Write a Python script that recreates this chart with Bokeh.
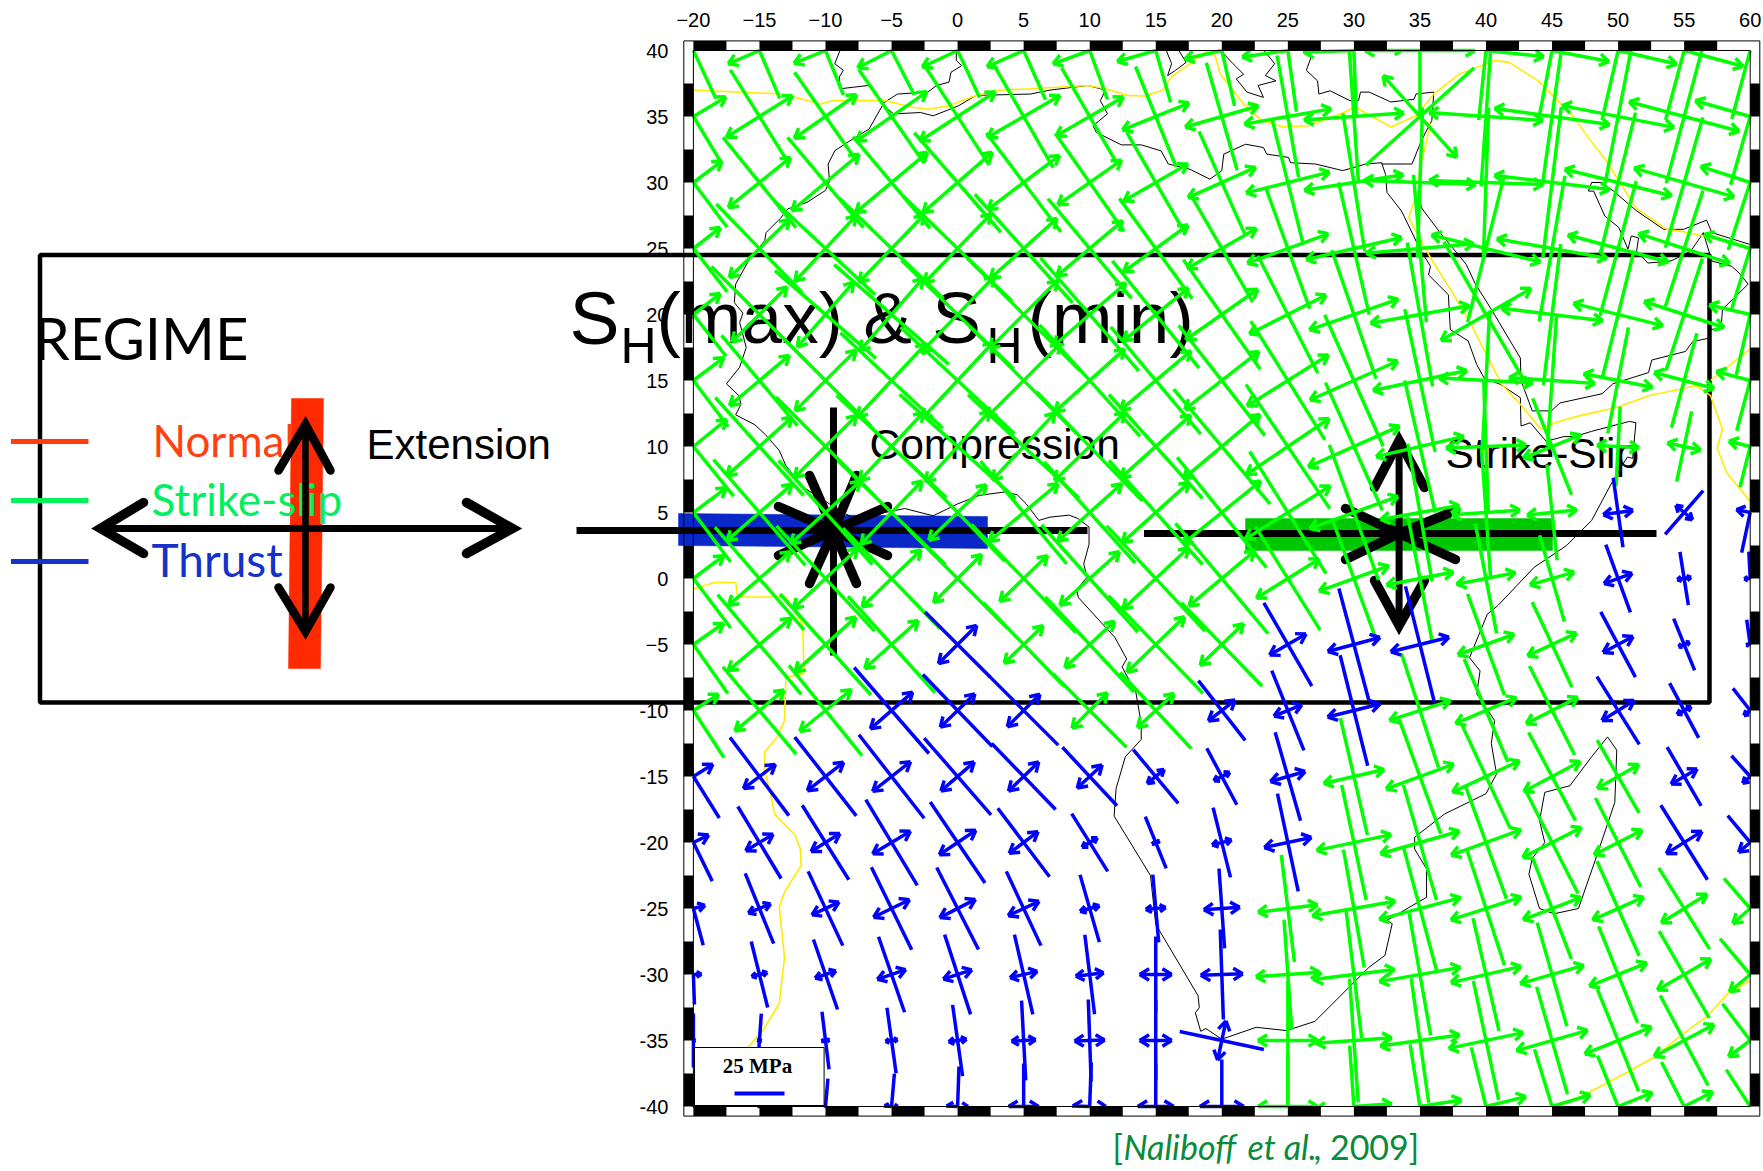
from bokeh.plotting import figure
from bokeh.models import Range1d, LinearAxis, FixedTicker
from bokeh.core.properties import value
from bokeh.embed import file_html
from bokeh.resources import INLINE
import math

# ---------- data ----------
LONS = [-20, -15, -10, -5, 0, 5, 10, 15, 20, 25, 30, 35, 40, 45, 50, 55, 60]
LATS = [40, 35, 30, 25, 20, 15, 10, 5, 0, -5, -10, -15, -20, -25, -30, -35, -40]
TOP_LABELS = ["\u221220", "\u221215", "\u221210", "\u22125", "0", "5", "10", "15", "20", "25", "30", "35", "40", "45", "50", "55", "60"]
LEFT_LABELS = ["40", "35", "30", "25", "20", "15", "10", "5", "0", "\u22125", "-10", "-15", "-20", "-25", "-30", "-35", "-40"]

# tilt of SH(max) from north, degrees (positive: top leans west)
TILT = [
    [25, 23, 22, 27, 25, 24, 20, 16, 13, 8, 2, 0, -6, -11, -13, -15, -15],
    [31, 32, 35, 35, 33, 30, 30, 22, 16, 10, 4, -48, -4, -8, -11, -15, -16],
    [37, 39, 40, 40, 41, 37, 35, 30, 24, 14, 9, -2, -2, -7, -14, -16, -18],
    [38, 44, 47, 46, 46, 42, 40, 36, 30, 20, 13, 5, -14, -10, -15, -18, -17],
    [38, 45, 49, 49, 46, 45, 41, 39, 35, 27, 19, 10, 30, -7, -14, -18, -13],
    [37, 40, 45, 47, 47, 45, 42, 40, 38, 32, 24, 12, -3, -4, -11, -15, -15],
    [39, 42, 45, 47, 48, 47, 44, 42, 40, 34, 24, 13, 2, 22, -3, -12, -14],
    [37, 41, 42, 46, 44, 40, 42, 42, 39, 32, 20, 10, 4, 6, 8, -41, -12],
    [37, 41, 43, 44, 45, 44, 42, 43, 40, 32, 20, 11, 11, 16, 20, 9, 3],
    [35, 40, 42, 42, 45, 44, 43, 44, 44, 30, 15, 14, 20, 25, 28, 22, 8],
    [33, 40, 39, 41, 44, 45, 45, 43, 38, 22, 14, 18, 23, 27, 32, 28, 38],
    [32, 37, 38, 38, 41, 44, 43, 40, 28, 16, 13, 20, 25, 28, 30, 30, 42],
    [26, 31, 32, 31, 34, 37, 32, 22, 14, 12, 12, 16, 20, 27, 27, 32, 40],
    [15, 22, 25, 26, 27, 25, 16, 5, 4, 7, 10, 15, 18, 21, 24, 32, 41],
    [2, 14, 19, 19, 18, 13, 7, 0, 2, 4, 7, 10, 13, 16, 22, 30, 40],
    [0, -4, 7, 8, 8, 3, 2, 0, 78, 0, 4, 8, 12, 16, 22, 28, 37],
    [0, 0, -5, -5, -2, 0, -2, 0, 0, 0, 4, 9, 14, 17, 22, 27, 33],
]
# SH(max) magnitude, MPa
SHMAX = [
    [53, 52, 48, 50, 52, 54, 52, 54, 57, 62, 65, 67, 70, 68, 69, 72, 71],
    [51, 55, 54, 57, 58, 59, 56, 54, 56, 62, 66, 73, 70, 69, 68, 69, 71],
    [56, 58, 59, 60, 66, 62, 60, 58, 56, 64, 70, 75, 75, 76, 72, 68, 71],
    [55, 62, 68, 72, 76, 73, 65, 62, 62, 64, 68, 74, 76, 74, 70, 61, 64],
    [53, 68, 67, 76, 78, 80, 75, 69, 67, 66, 68, 73, 84, 71, 66, 59, 62],
    [58, 59, 65, 70, 78, 76, 75, 70, 70, 70, 72, 73, 70, 66, 54, 49, 52],
    [64, 66, 70, 75, 78, 76, 76, 70, 75, 75, 70, 68, 66, 52, 40, 36, 42],
    [62, 70, 70, 75, 68, 67, 68, 70, 71, 72, 72, 70, 64, 48, 35, 29, 41],
    [62, 68, 72, 70, 70, 75, 72, 72, 72, 61, 63, 63, 56, 45, 36, 27, 27],
    [60, 65, 68, 65, 46, 58, 65, 68, 58, 48, 58, 60, 54, 47, 37, 28, 25],
    [56, 57, 58, 57, 50, 49, 52, 52, 38, 43, 57, 60, 56, 50, 40, 31, 28],
    [49, 49, 50, 53, 51, 46, 40, 35, 32, 46, 60, 61, 57, 50, 42, 34, 28],
    [43, 42, 44, 50, 49, 43, 34, 28, 36, 50, 59, 60, 60, 57, 50, 44, 35],
    [38, 38, 41, 46, 46, 41, 35, 34, 40, 54, 60, 64, 60, 54, 52, 48, 40],
    [30, 34, 37, 40, 42, 41, 40, 38, 45, 55, 64, 62, 58, 54, 52, 50, 47],
    [27, 27, 29, 33, 36, 40, 41, 40, 43, 60, 62, 63, 61, 56, 55, 51, 46],
    [25, 25, 28, 33, 40, 43, 44, 43, 47, 53, 61, 63, 61, 60, 55, 50, 44],
]
# SH(min) magnitude, MPa
SHMIN = [
    [30, 34, 34, 38, 39, 40, 39, 40, 38, 46, 50, 55, 58, 58, 60, 61, 62],
    [38, 39, 38, 43, 45, 42, 39, 36, 38, 44, 50, 55, 57, 58, 57, 57, 57],
    [36, 40, 44, 47, 46, 45, 39, 37, 37, 43, 50, 56, 57, 58, 55, 52, 52],
    [34, 42, 45, 47, 48, 45, 43, 40, 40, 43, 49, 54, 56, 56, 52, 48, 48],
    [34, 39, 43, 48, 53, 48, 48, 42, 44, 43, 47, 50, 52, 51, 46, 42, 42],
    [38, 39, 43, 50, 52, 52, 47, 46, 47, 48, 48, 48, 47, 43, 35, 31, 35],
    [43, 44, 44, 47, 48, 46, 49, 47, 50, 50, 50, 45, 40, 31, 21, 17, 22],
    [41, 43, 47, 44, 40, 45, 43, 45, 50, 50, 47, 40, 34, 25, 15, 11, 14],
    [38, 41, 44, 41, 34, 33, 40, 45, 43, 37, 37, 34, 30, 23, 15, 7, 6],
    [37, 41, 41, 36, 27, 27, 34, 40, 30, 21, 27, 30, 30, 27, 17, 6, 4],
    [30, 32, 33, 28, 24, 23, 25, 25, 17, 15, 27, 32, 33, 29, 19, 8, 8],
    [23, 20, 23, 24, 22, 21, 17, 11, 9, 18, 31, 36, 37, 32, 24, 15, 10],
    [17, 16, 17, 22, 22, 18, 9, 4, 10, 24, 38, 41, 37, 33, 27, 21, 15],
    [12, 12, 15, 20, 20, 17, 10, 10, 18, 30, 42, 42, 37, 31, 28, 27, 23],
    [8, 8, 11, 15, 15, 14, 14, 16, 21, 32, 41, 41, 36, 33, 31, 31, 27],
    [2, 2, 4, 6, 9, 12, 15, 16, 20, 30, 38, 40, 38, 37, 36, 34, 27],
    [2, 2, 1, 7, 11, 15, 17, 18, 22, 30, 38, 42, 41, 40, 37, 32, 28],
]
# stress regime per cell: S strike-slip, T thrust
REGIME = [
    "SSSSSSSSSSSSSSSSS",
    "SSSSSSSSSSSSSSSSS",
    "SSSSSSSSSSSSSSSSS",
    "SSSSSSSSSSSSSSSSS",
    "SSSSSSSSSSSSSSSSS",
    "SSSSSSSSSSSSSSSSS",
    "SSSSSSSSSSSSSSSSS",
    "SSSSSSSSSSSSSSTTT",
    "SSSSSSSSSSSSSSTTT",
    "SSSSTSSSSTTTSSTTT",
    "SSSTTTSSTTTSSSTTT",
    "TTTTTTTTTTSSSSSTT",
    "TTTTTTTTTTSSSSSTT",
    "TTTTTTTTTSSSSSSSS",
    "TTTTTTTTTSSSSSSSS",
    "TTTTTTTTTSSSSSSSS",
    "TTTTTTTTTSSSSSSSS",
]

COAST = [
    # Iberia
    [(-8.9, 40), (-9.3, 39), (-8.65, 38.5), (-8.95, 38), (-8.9, 37.1), (-6.75, 37.35), (-5.65, 36), (-4.55, 36.7),
     (-2.25, 36.85), (-1.6, 37.35), (-0.65, 37.6), (-0.5, 38.35), (0.3, 38.85), (-0.1, 39.25), (-0.1, 40)],
    # Africa, west side
    [(-5.65, 35.9), (-6.7, 34.05), (-8.4, 33), (-9.3, 32.4), (-9.8, 31.4), (-9.7, 30.1), (-10, 29.4), (-11.4, 28.5),
     (-12.85, 28), (-13.4, 27.3), (-14.5, 26.2), (-14.6, 25.6), (-15.7, 24.3), (-16.8, 22.3), (-16.9, 20.9),
     (-16.25, 20.1), (-16.5, 19.4), (-16, 17.5), (-16.5, 16), (-17.5, 14.75), (-16.55, 13.85), (-16.4, 13.2),
     (-16.8, 12.4), (-15.35, 11.65), (-14.55, 10.9), (-13.5, 9.7), (-13, 8.55), (-11.65, 6.9), (-9.7, 5.65),
     (-7.8, 4.5), (-6.5, 4.8), (-4, 5.3), (-1.85, 4.75), (0, 5.65), (1.65, 6.3), (3.55, 6.55), (4.5, 6.35),
     (5.2, 5.65), (6.15, 4.4), (7, 4.65), (8.45, 4.8), (9.1, 4.55), (9.95, 3.9), (9.95, 2.6), (9.55, 1.1), (9.8, 0.1),
     (9, -0.85), (9.15, -1.45), (11.2, -3.7), (11.9, -4.45), (12.8, -6.1), (12.45, -6.7), (13.5, -8.65), (13.9, -11),
     (13.9, -12.2), (12.7, -13.5), (12, -15.9), (11.85, -18), (14.6, -22.5), (15, -26.2), (18.2, -31.6), (18.3, -32.5),
     (18, -32.9), (18.4, -34.3), (18.8, -34.1), (20, -34.9), (22.6, -34), (24.9, -34.25), (27.05, -33.55),
     (31.15, -29.45), (32.35, -28.55), (32.9, -26.15), (32.5, -25.9), (35.5, -24.15), (35.5, -22), (34.6, -20.5),
     (34.6, -19.6), (36.85, -17.85), (40, -16.3), (40.8, -14.8), (40.4, -12.5), (40.65, -10.75), (39.3, -8.75),
     (39.55, -7), (38.75, -6), (40.1, -2.7), (40.9, -2.05), (43.65, 0.85), (46.1, 2.5), (48, 4.4), (49.6, 7.4),
     (50.7, 9.2), (51.1, 9.1), (51.35, 11.8), (50.85, 11.9), (48, 11.15), (46.7, 10.75), (45.9, 10.75), (44.55, 10.4),
     (43.35, 11.8), (42.65, 11.55), (42.6, 13.7), (41.1, 14.7), (39.85, 15.2), (39.3, 16.2), (38.65, 18), (37.3, 18.85),
     (37.15, 21.5), (35.65, 23), (35.8, 23.65), (35, 24.95), (34.45, 26.1), (33.6, 27.85), (32.5, 29.25), (32.4, 30.6),
     (32.1, 31.5), (30.9, 31.4), (29.15, 30.9), (27.1, 31.4), (25.2, 31.5), (25.05, 31.9), (23.4, 32.15), (23.15, 32.65),
     (21.8, 32.9), (20.15, 32.15), (20, 30.9), (19.1, 30.25), (17.6, 31), (15.95, 31.4), (15.4, 32.4), (13.9, 32.85),
     (12.4, 32.85), (10.5, 33.8), (10.25, 34.3), (11.35, 35.2), (10.8, 36.2), (11.2, 37), (9.85, 37.35), (7, 37),
     (5.5, 36.7), (1.4, 36.6), (0.05, 35.8), (-1.85, 35.05), (-2.8, 35.3), (-4.85, 35.2), (-5.65, 35.9)],
    # Levant and Turkey
    [(32.1, 31.4), (34.4, 31.4), (35.1, 33.15), (35.9, 34.7), (36.05, 36.85), (34.7, 36.7), (34.55, 36.3), (32.8, 36.1),
     (31.15, 36.85), (30.5, 36.85), (30.35, 36.2), (29.7, 36.2), (28.2, 36.95), (27.35, 36.7), (27.25, 37.7), (26.4, 38.5),
     (26.8, 39.6), (26.15, 39.9)],
    # Arabia and Iran
    [(34.9, 29.5), (35.1, 28.1), (36.6, 26.1), (38.5, 23.8), (39.2, 22.3), (40.4, 20.4), (42.6, 16.7), (42.65, 15),
     (43.5, 12.7), (44.95, 12.7), (45.6, 13.3), (48.8, 14), (49.6, 14.75), (52.3, 15.6), (52.55, 16.55), (55.1, 17.2),
     (55.65, 17.95), (56.85, 18.2), (57, 18.85), (57.8, 19), (57.9, 20.4), (59.85, 22.3), (59.15, 23.15), (58.6, 23.65),
     (57.1, 24.05), (56.45, 26.2), (56.05, 25.6), (55.5, 24.8), (54, 24.05), (52.25, 23.9), (51.4, 24.8), (51.55, 25.8),
     (51, 25.95), (50.75, 24.95), (50.05, 26.6), (49, 27.45), (48.15, 29.35), (47.75, 29.35), (48, 30), (48.7, 30),
     (49.65, 29.35), (51.4, 27.85), (53.45, 26.45), (54.95, 26.45), (56.7, 27.15), (57.1, 26.2), (60, 25.3)],
    # Italy, Greece
    [(15.8, 40), (16.2, 39), (15.9, 38.1), (16.5, 38.5), (17.3, 39.1), (16.75, 40)],
    [(19.9, 40), (20.85, 39), (21.65, 38.2), (21.1, 37.85), (21.9, 36.85), (23.15, 36.45), (22.75, 37.35), (24.1, 37.7),
     (23.3, 38.1), (24, 39), (23.2, 40)],
    # Madagascar
    [(44.05, -25), (43.25, -22.4), (43.5, -21.2), (44.45, -20), (44.05, -18.35), (44.45, -16.2), (46.35, -15.7), (48, -13.5),
     (49.2, -12), (49.9, -13), (49.75, -16.95), (49.2, -18.6), (48.25, -21.4), (47, -25), (45.15, -25.4), (44.05, -25)],
]
BOUNDARY = [
    [(-20, 37), (-13.25, 36.7), (-10.4, 35.95), (-9.45, 36.2), (-5.4, 36.2), (-3.5, 35.7), (-2.25, 35.55), (-0.75, 35.8), (1.4, 36.6),
     (3.3, 37), (5.6, 37.1), (9.85, 37.35), (11.2, 37.1), (12.85, 36.6), (14.2, 36.55), (15.55, 37), (16.2, 38), (17.6, 39), (18.8, 39.9),
     (19.5, 39.6), (19.9, 38.2), (21.65, 35.95), (23, 34.7), (24.65, 34.2), (26.55, 34.3), (29.25, 35.3), (30.1, 35.7), (32.8, 34.2),
     (34.7, 35.05), (36.05, 36.7), (37.95, 38.2), (40.7, 39.25), (41.75, 39.1), (43.95, 37.7), (46.65, 34.95), (47.75, 33.4), (49.1, 31.65),
     (51.4, 28), (53.7, 26.45), (54.8, 26.3), (57.1, 25.8)],
    [(34.7, 35.05), (35.8, 34.4), (35, 31.15), (34.85, 29.35), (34.15, 27.35), (34.7, 26.3), (35.8, 24.3), (37.4, 21.75), (38.75, 19.5),
     (40.15, 16.7), (41.2, 14.7), (42.6, 13.2), (44.15, 11.3), (45.2, 11.8), (46.95, 12.3), (49.9, 12.95), (52.3, 13.85), (55.9, 14.6),
     (57, 13.85), (57.9, 11.3), (57.5, 9.9), (58.2, 8.05), (59.95, 5.9)],
    [(57, 15), (60, 17.4)],
    [(-20, -0.8), (-18.4, -0.3), (-16.8, -0.3), (-16.65, -1.4), (-13, -1.4), (-11.75, -3.45), (-11.6, -7.2), (-13, -7.5), (-13.1, -10.75),
     (-13.65, -12), (-14.6, -13.15), (-14.6, -14.55), (-14.1, -16.55), (-13.85, -17.85), (-12.3, -19.45), (-11.9, -20.5), (-11.85, -21.75),
     (-13.1, -23.75), (-13.5, -24.9), (-13.1, -28.7), (-13.5, -32.2), (-14.75, -34.25), (-15.85, -35.5), (-19.8, -40)],
    [(45.55, -40), (47.85, -38.9), (50.7, -37.4), (52.75, -36.25), (54.8, -34.6), (56.8, -33.1), (58.3, -31.45), (60, -30.45)],
]
SCALE_MPA = 25

# ---------- geometry ----------
PX_LON, PX_LAT = 13.21, 13.2
LON0_PX, LAT0_PX = 692.9, 50.0
W, H = 1763, 1171


def X(px):
    return -20 + (px - LON0_PX) / PX_LON


def Y(py):
    return 40 - (py - LAT0_PX) / PX_LAT


def clip(x0, y0, x1, y1):
    t0, t1 = 0.0, 1.0
    dx, dy = x1 - x0, y1 - y0
    for p_, q_ in ((-dx, x0 + 20), (dx, 60 - x0), (-dy, y0 + 40), (dy, 40 - y0)):
        if p_ == 0:
            if q_ < 0:
                return None
        else:
            r = q_ / p_
            if p_ < 0:
                if r > t1:
                    return None
                t0 = max(t0, r)
            else:
                if r < t0:
                    return None
                t1 = min(t1, r)
    return (x0 + t0 * dx, y0 + t0 * dy, x0 + t1 * dx, y0 + t1 * dy)


p = figure(width=W, height=H, x_range=Range1d(X(0), X(W)), y_range=Range1d(Y(H), Y(0)),
           x_axis_location=None, y_axis_location=None, toolbar_location=None, output_backend="svg",
           min_border=0, outline_line_color=None, background_fill_color="white", border_fill_color="white")
p.grid.visible = False

SANS = value("Liberation Sans")
GILL = value("Lato")


def txt(px, py, s, size, color="black", font=SANS, style="normal", align="left"):
    p.text(x=[X(px)], y=[Y(py)], text=[s], text_font=font, text_font_size=value(size), text_color=color,
           text_baseline="alphabetic", text_align=align, text_font_style=style)


def ln(pts, w, color="black", cap="round"):
    p.line([X(a) for a, b in pts], [Y(b) for a, b in pts], line_width=w, line_color=color, line_cap=cap, line_join="miter")


def band(pts, color):
    p.patch([X(a) for a, b in pts], [Y(b) for a, b in pts], fill_color=color, line_color=color, line_width=0.5)


# ---------- slide overlay, below the map ----------
p.quad(left=[X(39.5)], right=[X(1709)], top=[Y(254.5)], bottom=[Y(702)], fill_color=None, line_color="black", line_width=4.5)
txt(33, 337, "REGIME", "58px", font=GILL)
for yy, col in ((441, "#ff3c0a"), (500, "#00f25a"), (561, "#1432c8")):
    ln([(10.5, yy), (88, yy)], 5, col, "butt")

band([(291, 398), (323, 398), (320, 668), (288, 668)], "#ff2a00")
txt(152, 439, "Normal", "44px", "#ff4010", GILL)
txt(151, 498, "Strike-slip", "44px", "#00f060", GILL)
txt(151, 559, "Thrust", "46px", "#1432c8", GILL)
ln([(305, 425), (305, 631)], 6.5, cap="butt")
ln([(278, 470), (305, 424), (330, 470)], 8.5)
ln([(278, 587), (305, 631), (330, 587)], 8.5)
ln([(100, 528), (512, 528)], 7, cap="butt")
ln([(143, 502), (100, 528), (143, 553)], 9.5)
ln([(466, 502), (512, 528), (466, 553)], 9.5)
txt(366, 444, "Extension", "42px")

band([(678, 513), (987, 516), (987, 548), (678, 545)], "#0a28c8")
ln([(833, 407), (833, 655)], 7, cap="butt")
ln([(576, 530), (1087, 530)], 7, cap="butt")
for bx, by in ((809, 475), (856, 475), (778, 506), (778, 555), (887, 506), (887, 555), (809, 583), (856, 583)):
    ln([(bx, by), (833, 530)], 9.5)
txt(869, 444, "Compression", "42.5px")

band([(1245, 518), (1552, 518), (1552, 550), (1245, 550)], "#00c800")
ln([(1398.6, 444), (1398.6, 624)], 7, cap="butt")
ln([(1143.5, 533), (1656, 533)], 7, cap="butt")
ln([(1374, 487), (1398.6, 440), (1424, 487)], 9.5)
ln([(1374, 580), (1398.6, 625), (1424, 580)], 9.5)
for bx, by in ((1345, 508), (1345, 559), (1455, 510), (1455, 559)):
    ln([(bx, by), (1398.6, 533)], 9.5)
txt(1445, 453, "Strike-Slip", "42.5px")

txt(569, 317, "S", "75px")
txt(620, 345, "H", "50px")
txt(656, 317, "(max) & S", "73px")
txt(986, 345, "H", "50px")
txt(1027, 317, "(min)", "73px")

# ---------- coastlines and plate boundaries ----------
p.multi_line([[a for a, b in c] for c in COAST], [[b for a, b in c] for c in COAST], line_color="black", line_width=1)
p.multi_line([[a for a, b in c] for c in BOUNDARY], [[b for a, b in c] for c in BOUNDARY], line_color="#ffea00", line_width=1.6)

# ---------- stress crosses ----------
segs = {"S": ([], [], [], []), "T": ([], [], [], [])}


def add(reg, x0, y0, x1, y1):
    c = clip(x0, y0, x1, y1)
    if c:
        s = segs[reg]
        s[0].append(c[0]); s[1].append(c[1]); s[2].append(c[2]); s[3].append(c[3])


for i, lat in enumerate(LATS):
    for j, lon in enumerate(LONS):
        t = math.radians(TILT[i][j])
        reg = REGIME[i][j]
        hb = SHMAX[i][j] / PX_LON
        ha = SHMIN[i][j] / PX_LON
        bx, by = -math.sin(t), math.cos(t)
        ax, ay = math.cos(t), math.sin(t)
        add(reg, lon - bx * hb, lat - by * hb, lon + bx * hb, lat + by * hb)
        add(reg, lon - ax * ha, lat - ay * ha, lon + ax * ha, lat + ay * ha)
        barb = min(11.0, 0.7 * SHMIN[i][j]) / PX_LON
        for sgn in (1, -1):
            tipx, tipy = lon + sgn * ax * ha, lat + sgn * ay * ha
            for rot in (math.radians(32), -math.radians(32)):
                cx = -sgn * (ax * math.cos(rot) - ay * math.sin(rot))
                cy = -sgn * (ax * math.sin(rot) + ay * math.cos(rot))
                add(reg, tipx, tipy, tipx + cx * barb, tipy + cy * barb)

for reg, col in (("S", "#00ff00"), ("T", "#0000ff")):
    s = segs[reg]
    p.segment(x0=s[0], y0=s[1], x1=s[2], y1=s[3], line_color=col, line_width=3.5, line_cap="butt")

# ---------- map frame ----------
FW = 9.6 / PX_LON
ticks_x = [-20 + 2.5 * k for k in range(0, 32, 2)]
ticks_y = [37.5 - 2.5 * k for k in range(0, 32, 2)]
lft = [a for a in ticks_x] * 2 + [-20 - FW] * len(ticks_y) + [60] * len(ticks_y)
rgt = [a + 2.5 for a in ticks_x] * 2 + [-20] * len(ticks_y) + [60 + FW] * len(ticks_y)
top = [40 + FW] * len(ticks_x) + [-40] * len(ticks_x) + [a for a in ticks_y] * 2
bot = [40] * len(ticks_x) + [-40 - FW] * len(ticks_x) + [a - 2.5 for a in ticks_y] * 2
p.quad(left=lft, right=rgt, top=top, bottom=bot, fill_color="black", line_color=None)
p.quad(left=[-20], right=[60], top=[40], bottom=[-40], fill_color=None, line_color="black", line_width=1)
p.quad(left=[-20 - FW], right=[60 + FW], top=[40 + FW], bottom=[-40 - FW], fill_color=None, line_color="black", line_width=1)

# ---------- scale box ----------
p.quad(left=[X(694)], right=[X(823.6)], top=[Y(1047)], bottom=[Y(1105)], fill_color="white", line_color="black", line_width=1)
txt(757, 1065, "25 MPa", "21px", font=value("Liberation Serif"), style="bold", align="center")
sx = X(734)
p.segment(x0=[sx], y0=[Y(1093)], x1=[sx + SCALE_MPA * 2 / PX_LON], y1=[Y(1093)], line_color="#0000ff", line_width=4)

# ---------- citation ----------
CITE = "#0a8a3a"
txt(1112, 1146, "[", "34px", CITE, GILL)
txt(1123, 1146, "Naliboff", "34px", CITE, GILL, "italic")
txt(1247, 1146, "et al.", "34px", CITE, GILL, "italic")
txt(1313, 1146, ", 2009]", "34px", CITE, GILL)

# ---------- axes ----------
ax_top = LinearAxis(fixed_location=40, ticker=FixedTicker(ticks=LONS),
                    major_label_overrides=dict(zip(LONS, TOP_LABELS)),
                    axis_line_color=None, major_tick_line_color=None, minor_tick_line_color=None,
                    major_tick_out=0, major_tick_in=0, major_label_standoff=24,
                    major_label_text_font="Liberation Sans", major_label_text_font_size="20px", major_label_text_color="black")
ax_left = LinearAxis(fixed_location=-20, ticker=FixedTicker(ticks=LATS),
                     major_label_overrides=dict(zip(LATS, LEFT_LABELS)),
                     axis_line_color=None, major_tick_line_color=None, minor_tick_line_color=None,
                     major_tick_out=0, major_tick_in=0, major_label_standoff=25,
                     major_label_text_font="Liberation Sans", major_label_text_font_size="20px", major_label_text_color="black")
p.add_layout(ax_top, "above")
p.add_layout(ax_left, "left")

open("out.html", "w").write(file_html(p, INLINE))
